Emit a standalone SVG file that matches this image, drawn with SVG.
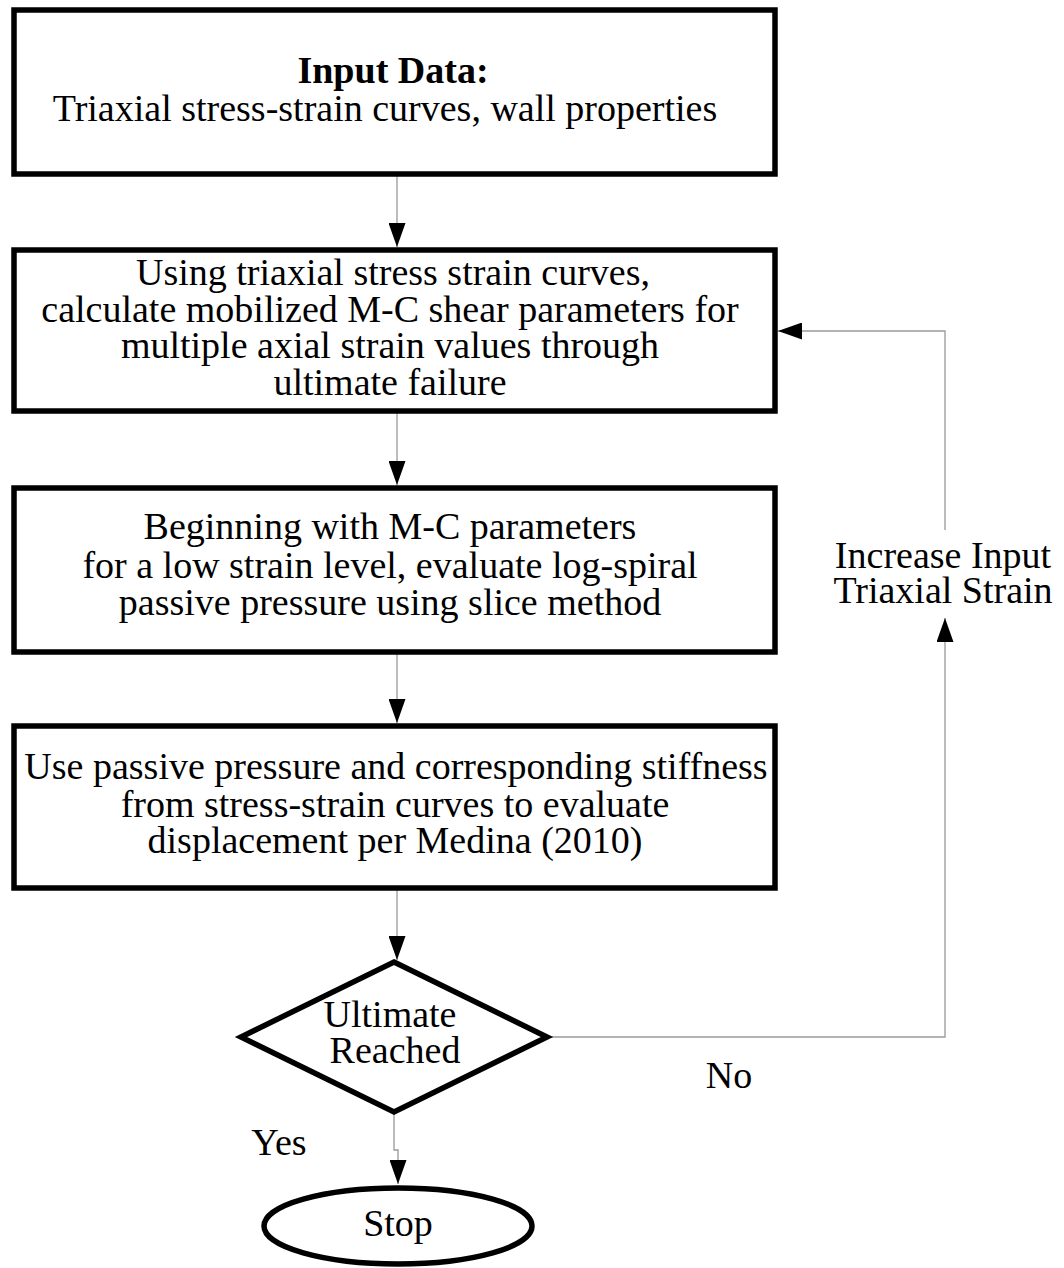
<svg xmlns="http://www.w3.org/2000/svg" width="1064" height="1268" viewBox="0 0 1064 1268">
<style>
.box{fill:#fff;stroke:#000;stroke-width:5.5}
.t{font-family:"Liberation Serif","Times New Roman",serif;font-size:38px;fill:#000;text-anchor:middle}
.b{font-weight:bold}
.c{fill:none;stroke:#999;stroke-width:1.3}
</style>
<defs>
<marker id="ah" markerWidth="24" markerHeight="17" refX="24" refY="8.5" viewBox="0 0 24 17" orient="auto" markerUnits="userSpaceOnUse">
<path d="M0,0 L24,8.5 L0,17 Z" fill="#000"/>
</marker>
</defs>
<rect width="1064" height="1268" fill="#fff"/>
<g id="connectors">
<line class="c" x1="397" y1="174" x2="397" y2="247" marker-end="url(#ah)"/>
<line class="c" x1="397" y1="411" x2="397" y2="485" marker-end="url(#ah)"/>
<line class="c" x1="397" y1="652" x2="397" y2="723" marker-end="url(#ah)"/>
<line class="c" x1="397" y1="888" x2="397" y2="960" marker-end="url(#ah)"/>
<polyline class="c" points="394,1112 394,1150 398,1150 398,1184" marker-end="url(#ah)"/>
<polyline class="c" points="548,1037 945,1037 945,618" marker-end="url(#ah)"/>
<polyline class="c" points="945,530 945,331 778,331" marker-end="url(#ah)"/>
</g>
<g id="n1">
<rect class="box" x="14" y="10" width="761" height="164"/>
<text class="t b" x="393" y="83">Input Data:</text>
<text class="t" x="385" y="121">Triaxial stress-strain curves, wall properties</text>
</g>
<g id="n2">
<rect class="box" x="14" y="250" width="761" height="161"/>
<text class="t" x="393" y="285">Using triaxial stress strain curves,</text>
<text class="t" x="390" y="322">calculate mobilized M-C shear parameters for</text>
<text class="t" x="390" y="358">multiple axial strain values through</text>
<text class="t" x="390" y="395">ultimate failure</text>
</g>
<g id="n3">
<rect class="box" x="14" y="488" width="761" height="164"/>
<text class="t" x="390" y="539">Beginning with M-C parameters</text>
<text class="t" x="390" y="578">for a low strain level, evaluate log-spiral</text>
<text class="t" x="390" y="615">passive pressure using slice method</text>
</g>
<g id="n4">
<rect class="box" x="14" y="726" width="761" height="162"/>
<text class="t" x="396" y="779">Use passive pressure and corresponding stiffness</text>
<text class="t" x="395" y="817">from stress-strain curves to evaluate</text>
<text class="t" x="395" y="853">displacement per Medina (2010)</text>
</g>
<g id="n5">
<polygon class="box" points="394,962 547,1037 394,1112 241,1037"/>
<text class="t" x="390" y="1027">Ultimate</text>
<text class="t" x="395" y="1063">Reached</text>
</g>
<g id="n6">
<ellipse class="box" cx="398" cy="1226" rx="134" ry="38"/>
<text class="t" x="398" y="1236">Stop</text>
</g>
<g id="labels">
<text class="t" x="943" y="568">Increase Input</text>
<text class="t" x="943" y="603">Triaxial Strain</text>
<text class="t" x="729" y="1088">No</text>
<text class="t" x="279" y="1155">Yes</text>
</g>
</svg>
